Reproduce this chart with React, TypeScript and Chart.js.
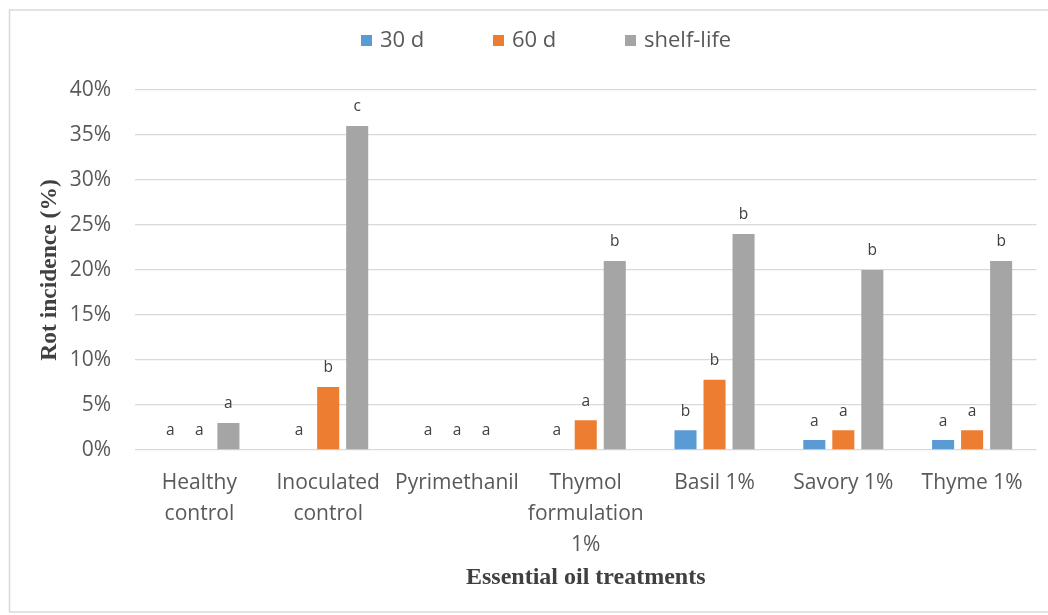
import React, { useEffect, useRef } from "react";
import { Chart, registerables } from "chart.js";

Chart.register(...registerables);

const categories: (string | string[])[] = [
  ["Healthy", "control"],
  ["Inoculated", "control"],
  "Pyrimethanil",
  ["Thymol", "formulation", "1%"],
  "Basil 1%",
  "Savory 1%",
  "Thyme 1%",
];

const seriesNames = ["30 d", "60 d", "shelf-life"];
const seriesColors = ["#5B9BD5", "#ED7D31", "#A5A5A5"];

const values30d = [0, 0, 0, 0, 2.2, 1.1, 1.1];
const values60d = [0, 7.0, 0, 3.3, 7.8, 2.2, 2.2];
const valuesShelf = [3.0, 36.0, 0, 21.0, 24.0, 20.0, 21.0];

const letters30d = ["a", "a", "a", "a", "b", "a", "a"];
const letters60d = ["a", "b", "a", "a", "b", "a", "a"];
const lettersShelf = ["a", "c", "a", "b", "b", "b", "b"];

const yTicks = [0, 5, 10, 15, 20, 25, 30, 35, 40];

const SANS = "'Open Sans', Lato, sans-serif";
const SERIF = "'Liberation Serif', 'Times New Roman', serif";

const lettersPlugin = {
  id: "letters",
  afterDatasetsDraw(chart: any) {
    const ctx = chart.ctx;
    const all = [letters30d, letters60d, lettersShelf];
    ctx.save();
    ctx.font = `15.5px ${SANS}`;
    ctx.fillStyle = "#404040";
    ctx.textAlign = "center";
    ctx.textBaseline = "middle";
    chart.data.datasets.forEach((_: any, di: number) => {
      const meta = chart.getDatasetMeta(di);
      meta.data.forEach((el: any, i: number) => {
        ctx.fillText(all[di][i], el.x, el.y - 19);
      });
    });
    ctx.restore();
  },
};

const framePlugin = {
  id: "frame",
  beforeDraw(chart: any) {
    const ctx = chart.ctx;
    ctx.save();
    ctx.fillStyle = "#ffffff";
    ctx.fillRect(0, 0, chart.width, chart.height);
    ctx.strokeStyle = "#d9d9d9";
    ctx.lineWidth = 1.5;
    ctx.beginPath();
    ctx.moveTo(chart.width + 2, 10);
    ctx.lineTo(9.5, 10);
    ctx.lineTo(9.5, 612);
    ctx.lineTo(chart.width + 2, 612);
    ctx.stroke();
    ctx.restore();
  },
};

const legendPlugin = {
  id: "customLegend",
  afterDraw(chart: any) {
    const ctx = chart.ctx;
    ctx.save();
    ctx.font = `22px ${SANS}`;
    ctx.textBaseline = "middle";
    ctx.textAlign = "left";
    const startX = 361;
    const step = 132;
    const cy = 41;
    seriesNames.forEach((name, i) => {
      const x = startX + i * step;
      ctx.fillStyle = seriesColors[i];
      ctx.fillRect(x, cy - 6, 11, 11);
      ctx.fillStyle = "#595959";
      ctx.fillText(name, x + 19, cy);
    });
    ctx.restore();
  },
};

export default function App() {
  const ref = useRef<HTMLCanvasElement>(null);
  useEffect(() => {
    if (!ref.current) return;
    const chart = new Chart(ref.current, {
      type: "bar",
      data: {
        labels: categories,
        datasets: [
          { label: seriesNames[0], data: values30d, backgroundColor: seriesColors[0] },
          { label: seriesNames[1], data: values60d, backgroundColor: seriesColors[1] },
          { label: seriesNames[2], data: valuesShelf, backgroundColor: seriesColors[2] },
        ],
      },
      options: {
        animation: false,
        responsive: false,
        maintainAspectRatio: false,
        devicePixelRatio: 1,
        layout: { padding: { top: 90, right: 11.5, bottom: 0, left: 0 } },
        datasets: {
          bar: { categoryPercentage: 0.676, barPercentage: 0.76 },
        },
        plugins: {
          legend: { display: false },
          tooltip: { enabled: false },
        },
        scales: {
          x: {
            grid: { display: false, drawTicks: false },
            border: { display: false },
            ticks: {
              color: "#595959",
              font: { family: SANS, size: 21, lineHeight: 1.48 },
              padding: 17,
              maxRotation: 0,
              autoSkip: false,
            },
            title: {
              display: true,
              text: "Essential oil treatments",
              color: "#404040",
              font: { family: SERIF, size: 24, weight: "bold", lineHeight: 1.2 },
              padding: { top: 0, bottom: 22.5 },
            },
            afterFit(scale: any) {
              scale.height = 165;
            },
          },
          y: {
            min: 0,
            max: 40,
            afterBuildTicks(scale: any) {
              scale.ticks = yTicks.map((v) => ({ value: v }));
            },
            grid: { color: "#d9d9d9", lineWidth: 1.3, drawTicks: false },
            border: { display: false },
            ticks: {
              color: "#595959",
              font: { family: SANS, size: 21 },
              padding: 24,
              callback: (v: any) => `${v}%`,
            },
            title: {
              display: true,
              text: "Rot incidence (%)",
              color: "#404040",
              font: { family: SERIF, size: 23.5, weight: "bold", lineHeight: 1.2 },
              padding: { top: 36, bottom: 0 },
            },
            afterFit(scale: any) {
              scale.width = 135;
            },
          },
        },
      },
      plugins: [framePlugin, lettersPlugin, legendPlugin],
    } as any);
    return () => chart.destroy();
  }, []);
  return (
    <div style={{ position: "fixed", left: 0, top: 0, width: 1048, height: 615, background: "#fff" }}>
      <canvas ref={ref} width={1048} height={615} style={{ width: 1048, height: 615 }} />
    </div>
  );
}
